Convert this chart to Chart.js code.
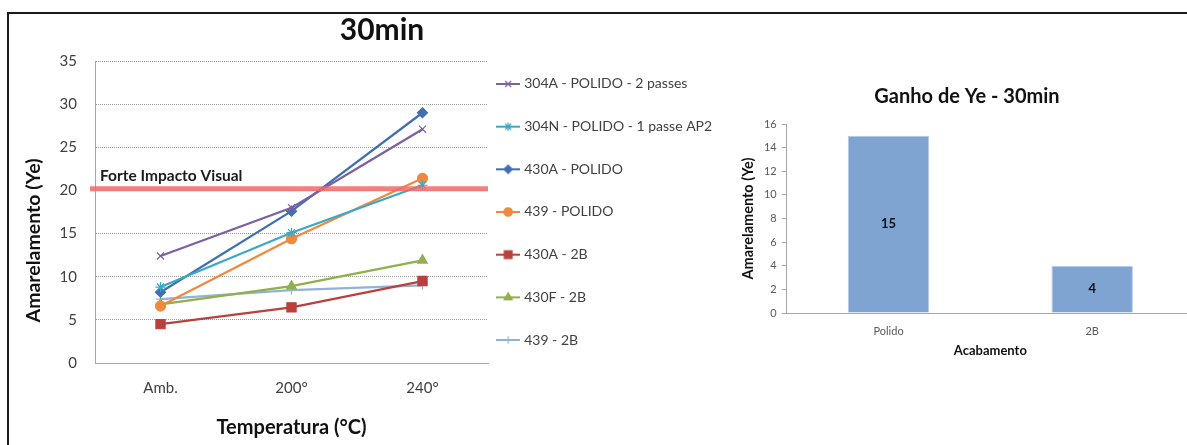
<!DOCTYPE html>
<html>
<head>
  <script src="https://cdn.jsdelivr.net/npm/chart.js"></script>
  <title>Amarelamento - 30min</title>
  <style>
    body { margin: 0; background: #fff; overflow: hidden; width: 1187px; height: 445px; position: relative; }
    #frame { position: absolute; left: 7px; top: 12px; right: -10px; bottom: -10px; border-top: 2px solid #1a1a1a; border-left: 2px solid #1a1a1a; }
    #lineWrap { position: absolute; left: 10px; top: 15px; width: 744px; height: 430px; }
    #barWrap { position: absolute; left: 740px; top: 70px; width: 460px; height: 300px; }
  </style>
</head>
<body>
  <div id="frame"></div>
  <div id="lineWrap"><canvas id="lineChart"></canvas></div>
  <div id="barWrap"><canvas id="barChart"></canvas></div>

  <script>
    /** data **/
    const temps = ['Amb.', '200°', '240°'];
    const s304A_polido = [12.4, 18.0, 27.1];
    const s304N_polido = [8.8, 15.1, 20.6];
    const s430A_polido = [8.2, 17.6, 29.0];
    const s439_polido = [6.6, 14.4, 21.4];
    const s430A_2B = [4.5, 6.45, 9.5];
    const s430F_2B = [6.8, 8.9, 11.9];
    const s439_2B = [7.4, 8.45, 9.0];
    const impactLevel = 20.2;
    const impactLabel = 'Forte Impacto Visual';

    const finishes = ['Polido', '2B'];
    const gainYe = [15, 4];

    const FONT = 'Lato, "Open Sans", sans-serif';
    Chart.defaults.font.family = FONT;
    Chart.defaults.animation = false;
    Chart.defaults.responsive = true;
    Chart.defaults.maintainAspectRatio = false;

    function series(label, data, color, style, radius) {
      return {
        label: label, data: data,
        borderColor: color, backgroundColor: color,
        pointBackgroundColor: color, pointBorderColor: color,
        pointStyle: style, pointRadius: radius, pointBorderWidth: 1.2,
        borderWidth: 2.25, tension: 0, fill: false
      };
    }

    const lineSets = [
      series('304A - POLIDO - 2 passes', s304A_polido, '#7e60a1', 'crossRot', 5),
      series('304N - POLIDO - 1 passe AP2', s304N_polido, '#3aa9c4', 'star', 5),
      series('430A - POLIDO', s430A_polido, '#3f6fb2', 'rectRot', 5),
      series('439 - POLIDO', s439_polido, '#f0893d', 'circle', 5),
      series('430A - 2B', s430A_2B, '#b9403d', 'rect', 6.5),
      series('430F - 2B', s430F_2B, '#8fb04d', 'triangle', 5.5),
      series('439 - 2B', s439_2B, '#93b2d8', 'cross', 4.5)
    ];

    // legend glyph: short line with the series marker in the middle
    function glyph(ds) {
      const c = document.createElement('canvas');
      c.width = 24; c.height = 14;
      const g = c.getContext('2d');
      g.strokeStyle = ds.borderColor; g.lineWidth = 2;
      g.beginPath(); g.moveTo(0, 7); g.lineTo(24, 7); g.stroke();
      g.fillStyle = ds.pointBackgroundColor; g.strokeStyle = ds.pointBorderColor; g.lineWidth = 1.2;
      Chart.helpers.drawPoint(g, { pointStyle: ds.pointStyle, radius: ds.pointRadius * 0.85, borderWidth: 1.2, rotation: 0 }, 12, 7);
      return c;
    }
    const glyphs = lineSets.map(glyph);

    const legendPlace = {
      id: 'legendPlace',
      beforeLayout(chart) {
        const lg = chart.legend;
        if (lg && !lg._fixed) {
          const fit = lg.fit;
          lg.fit = function () { fit.call(this); this.width = 266; };
          lg._fixed = true;
        }
      },
      afterLayout(chart) {
        const lg = chart.legend;
        lg.left = chart.chartArea.right - 17.5;
        lg.top = 33.3;
        lg.bottom = chart.height;
        lg.right = chart.width;
      }
    };

    const impactLine = {
      id: 'impactLine',
      afterDatasetsDraw(chart) {
        const ctx = chart.ctx;
        const y = chart.scales.y.getPixelForValue(impactLevel);
        const area = chart.chartArea;
        ctx.save();
        ctx.strokeStyle = 'rgba(242, 105, 105, 0.85)';
        ctx.lineWidth = 5;
        ctx.beginPath(); ctx.moveTo(area.left - 5, y); ctx.lineTo(area.right, y); ctx.stroke();
        ctx.font = 'bold 15.5px ' + FONT;
        ctx.fillStyle = '#1a1a1a';
        ctx.textBaseline = 'alphabetic';
        ctx.fillText(impactLabel, area.left + 5, y - 8);
        ctx.restore();
      }
    };

    new Chart(document.getElementById('lineChart'), {
      type: 'line',
      data: { labels: temps, datasets: lineSets },
      plugins: [legendPlace, impactLine],
      options: {
        layout: { padding: 0 },
        plugins: {
          title: {
            display: true, text: '30min', color: '#111',
            font: { size: 30, weight: 'bold', lineHeight: 1 },
            padding: { top: 0, bottom: 16 }
          },
          legend: {
            position: 'right', align: 'start',
            labels: {
              usePointStyle: true, pointStyleWidth: 18, padding: 28.67,
              color: '#404040', font: { size: 14 },
              generateLabels(chart) {
                return chart.data.datasets.map((ds, i) => ({
                  text: ds.label, pointStyle: glyphs[i], fillStyle: ds.borderColor,
                  strokeStyle: ds.borderColor, lineWidth: 0, hidden: false,
                  datasetIndex: i, fontColor: '#404040'
                }));
              }
            }
          },
          tooltip: { enabled: false }
        },
        scales: {
          x: {
            offset: true,
            grid: { display: false, drawTicks: false },
            border: { color: '#a6a6a6', width: 1 },
            ticks: { color: '#404040', font: { size: 15 }, padding: 16 },
            title: { display: true, text: 'Temperatura (°C)', color: '#111', font: { size: 20, weight: 'bold' }, padding: { top: 0, bottom: 5 } },
            afterFit(scale) { scale.height = 82; }
          },
          y: {
            min: 0, max: 35,
            ticks: { stepSize: 5, color: '#404040', font: { size: 15 }, padding: 18 },
            grid: { color: '#9a9a9a', lineWidth: 1, drawTicks: false },
            border: { color: '#a6a6a6', width: 1, dash: [1, 1] },
            title: { display: true, text: 'Amarelamento (Ye)            ', color: '#111', font: { size: 19.5, weight: 'bold' }, padding: { top: 12, bottom: 0 } },
            afterFit(scale) { scale.width = 85; }
          }
        }
      }
    });

    const barLabels = {
      id: 'barLabels',
      afterDatasetsDraw(chart) {
        const ctx = chart.ctx;
        const meta = chart.getDatasetMeta(0);
        ctx.save();
        ctx.font = 'bold 13px ' + FONT;
        ctx.fillStyle = '#111';
        ctx.textAlign = 'center';
        ctx.textBaseline = 'middle';
        meta.data.forEach((bar, i) => {
          const v = chart.data.datasets[0].data[i];
          ctx.fillText(String(v), bar.x, (bar.y + bar.base) / 2);
        });
        ctx.restore();
      }
    };

    new Chart(document.getElementById('barChart'), {
      type: 'bar',
      data: {
        labels: finishes,
        datasets: [{
          label: 'Ganho de Ye', data: gainYe,
          backgroundColor: '#7fa4d1', borderColor: '#b7cbe6', borderWidth: 1,
          categoryPercentage: 0.8, barPercentage: 0.5
        }]
      },
      plugins: [barLabels],
      options: {
        layout: { padding: { left: 0, right: 6, top: 0, bottom: 0 } },
        plugins: {
          legend: { display: false },
          tooltip: { enabled: false },
          title: {
            display: true, text: 'Ganho de Ye - 30min', color: '#111',
            font: { size: 20, weight: 'bold', lineHeight: 1 },
            padding: { top: 17, bottom: 17 }
          }
        },
        scales: {
          x: {
            grid: { display: false, drawTicks: false },
            border: { color: '#a6a6a6', width: 1 },
            ticks: { color: '#595959', font: { size: 11 }, padding: 12 },
            title: { display: true, text: 'Acabamento', color: '#111', font: { size: 13, weight: 'bold' }, padding: { top: 0, bottom: 11 } },
            afterFit(scale) { scale.height = 57; }
          },
          y: {
            min: 0, max: 16,
            ticks: { stepSize: 2, color: '#595959', font: { size: 11 }, padding: 5 },
            grid: { drawOnChartArea: false, drawTicks: true, tickLength: 5, color: '#a6a6a6' },
            border: { color: '#a6a6a6', width: 1 },
            title: { display: true, text: 'Amarelamento (Ye)', color: '#111', font: { size: 14.5, weight: 'bold' }, padding: { top: 0, bottom: 0 } },
            afterFit(scale) { scale.width = 46.7; }
          }
        }
      }
    });
  </script>
</body>
</html>
